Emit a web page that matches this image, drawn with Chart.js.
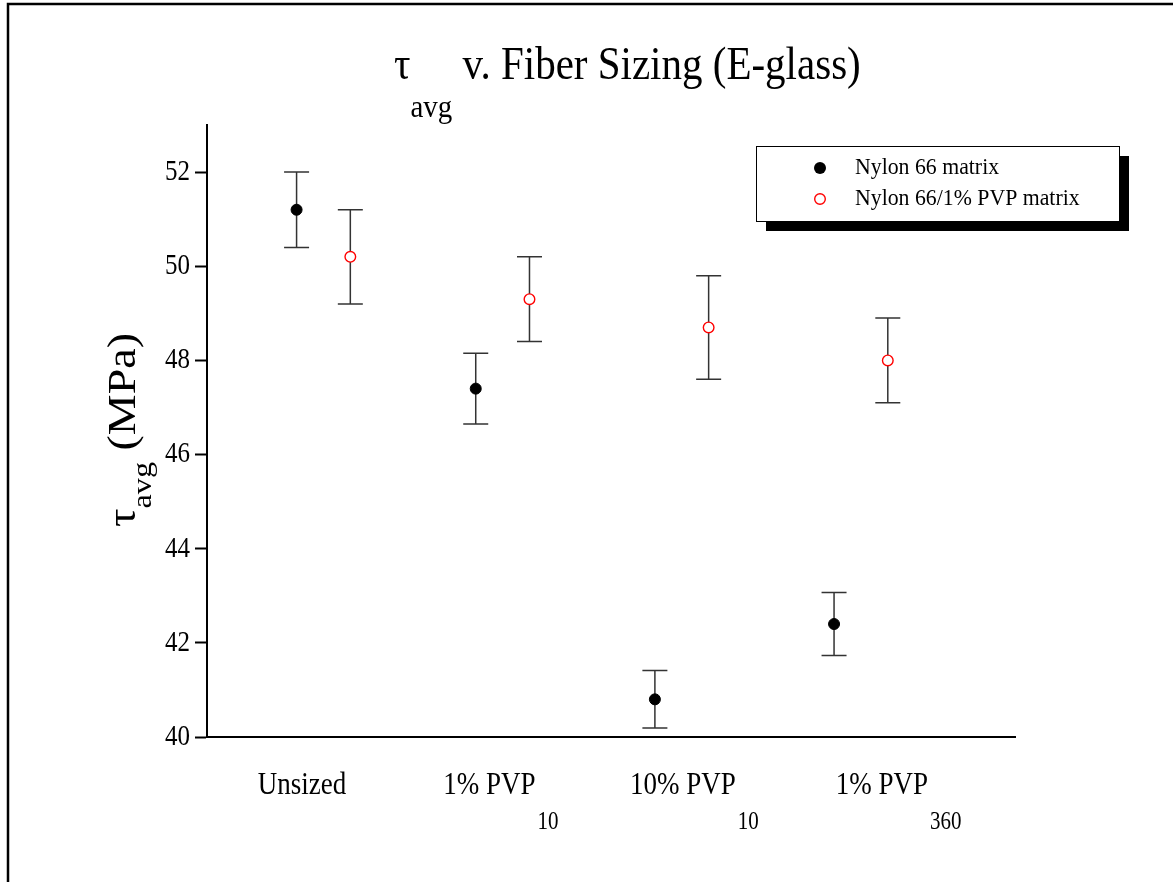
<!DOCTYPE html>
<html>
<head>
<meta charset="utf-8">
<script src="https://cdn.jsdelivr.net/npm/chart.js@4.4.1/dist/chart.umd.min.js"></script>
<style>
  html, body { margin: 0; padding: 0; background: #fff; }
  #wrap { width: 1173px; height: 882px; }
</style>
</head>
<body>
<div id="wrap"><canvas id="chart" width="1173" height="882"></canvas></div>
<script>
// data
const categories = ['Unsized', '1% PVP', '10% PVP', '1% PVP'];
const categorySubs = ['', '10', '10', '360'];
const labelPos = [-0.12, 0.99, 2.07, 3.21];   // where each category label sits on the x scale
const nylonMean = [51.2, 47.4, 40.8, 42.4];
const nylonErr = [0.8, 0.75, 0.61, 0.67];
const pvpMean = [50.2, 49.3, 48.7, 48.0];
const pvpErr = [1.0, 0.9, 1.1, 0.9];
const yTicks = [40, 42, 44, 46, 48, 50, 52];

const DODGE = 0.15;
const SERIF = "'Liberation Serif', 'Times New Roman', serif";

// draw text stretched vertically (the original fonts look taller than Times)
function sText(ctx, text, x, y, size, k) {
  ctx.save();
  ctx.translate(x, y);
  ctx.scale(1, k);
  ctx.font = size + 'px ' + SERIF;
  ctx.fillText(text, 0, 0);
  ctx.restore();
}
function tw(ctx, text, size) {
  ctx.font = size + 'px ' + SERIF;
  return ctx.measureText(text).width;
}

const framePlugin = {
  id: 'frame',
  beforeDraw(chart) {
    const ctx = chart.ctx;
    ctx.save();
    ctx.fillStyle = '#fff';
    ctx.fillRect(0, 0, chart.width, chart.height);
    ctx.strokeStyle = '#000';
    ctx.lineWidth = 2.5;
    ctx.beginPath();
    ctx.moveTo(8, chart.height);
    ctx.lineTo(8, 4);
    ctx.lineTo(chart.width, 4);
    ctx.stroke();
    ctx.restore();
  }
};

const errorBarPlugin = {
  id: 'errorBars',
  beforeDatasetsDraw(chart) {
    const ctx = chart.ctx;
    const y = chart.scales.y;
    const errs = [nylonErr, pvpErr];
    ctx.save();
    ctx.strokeStyle = '#333';
    ctx.lineWidth = 1.5;
    chart.data.datasets.forEach((ds, di) => {
      const meta = chart.getDatasetMeta(di);
      meta.data.forEach((pt, i) => {
        const v = ds.data[i].y;
        const top = y.getPixelForValue(v + errs[di][i]);
        const bot = y.getPixelForValue(v - errs[di][i]);
        ctx.beginPath();
        ctx.moveTo(pt.x, top); ctx.lineTo(pt.x, bot);
        ctx.moveTo(pt.x - 12.5, top); ctx.lineTo(pt.x + 12.5, top);
        ctx.moveTo(pt.x - 12.5, bot); ctx.lineTo(pt.x + 12.5, bot);
        ctx.stroke();
      });
    });
    ctx.restore();
  }
};

const textPlugin = {
  id: 'texts',
  afterDraw(chart) {
    const ctx = chart.ctx;
    const xs = chart.scales.x, ys = chart.scales.y;
    ctx.save();
    ctx.fillStyle = '#000';
    ctx.textBaseline = 'alphabetic';
    ctx.textAlign = 'left';

    // title
    let x = 394;
    sText(ctx, 'τ', x, 79, 41, 1.12);
    x += tw(ctx, 'τ', 41);
    sText(ctx, 'avg', x, 117, 29, 1.12);
    x += tw(ctx, 'avg', 29);
    sText(ctx, ' v. Fiber Sizing (E-glass)', x, 79, 41, 1.12);

    // y axis title, rotated
    ctx.save();
    ctx.translate(135, 527);
    ctx.rotate(-Math.PI / 2);
    ctx.scale(1.15, 1);
    let u = 0;
    ctx.font = '40px ' + SERIF;
    ctx.fillText('τ', u, 0);
    u += ctx.measureText('τ').width;
    ctx.font = '28px ' + SERIF;
    ctx.fillText('avg', u, 16);
    u += ctx.measureText('avg').width;
    ctx.font = '40px ' + SERIF;
    ctx.fillText(' (MPa)', u, 0);
    ctx.restore();

    // y tick labels
    ctx.textAlign = 'right';
    ctx.textBaseline = 'middle';
    ys.ticks.forEach(t => {
      sText(ctx, String(t.value), 190, ys.getPixelForValue(t.value), 25, 1.2);
    });

    // x category labels
    ctx.textAlign = 'left';
    ctx.textBaseline = 'alphabetic';
    categories.forEach((c, i) => {
      const wMain = tw(ctx, c, 27);
      const wSub = categorySubs[i] ? tw(ctx, categorySubs[i], 21) + 2 : 0;
      const cx = xs.getPixelForValue(labelPos[i]);
      const x0 = cx - (wMain + wSub) / 2;
      sText(ctx, c, x0, 794, 27, 1.18);
      if (categorySubs[i]) sText(ctx, categorySubs[i], x0 + wMain + 2, 829, 21, 1.18);
    });

    // legend box with drop shadow
    const bx = 756, by = 146, bw = 363, bh = 75;
    ctx.fillStyle = '#000';
    ctx.fillRect(bx + 10, by + 10, bw, bh);
    ctx.fillStyle = '#fff';
    ctx.fillRect(bx, by, bw, bh);
    ctx.strokeStyle = '#000';
    ctx.lineWidth = 1;
    ctx.strokeRect(bx + 0.5, by + 0.5, bw, bh);
    chart.data.datasets.forEach((ds, di) => {
      const ly = by + 22 + di * 31;
      ctx.beginPath();
      ctx.arc(bx + 64, ly, di === 0 ? 6 : 5.3, 0, Math.PI * 2);
      if (di === 0) { ctx.fillStyle = '#000'; ctx.fill(); }
      else { ctx.fillStyle = '#fff'; ctx.fill(); ctx.strokeStyle = '#f00'; ctx.lineWidth = 1.4; ctx.stroke(); }
      ctx.fillStyle = '#000';
      ctx.textBaseline = 'middle';
      sText(ctx, ds.label, bx + 99, ly, 21.8, 1.05);
    });
    ctx.restore();
  }
};

new Chart(document.getElementById('chart'), {
  type: 'scatter',
  data: {
    datasets: [
      {
        label: 'Nylon 66 matrix',
        data: nylonMean.map((v, i) => ({ x: i - DODGE, y: v })),
        pointRadius: 5.5,
        pointBackgroundColor: '#000',
        pointBorderColor: '#000',
        pointBorderWidth: 1
      },
      {
        label: 'Nylon 66/1% PVP matrix',
        data: pvpMean.map((v, i) => ({ x: i + DODGE, y: v })),
        pointRadius: 5.3,
        pointBackgroundColor: '#fff',
        pointBorderColor: '#f00',
        pointBorderWidth: 1.4
      }
    ]
  },
  options: {
    responsive: false,
    animation: false,
    events: [],
    layout: { padding: { top: 125, right: 158, left: 0, bottom: 0 } },
    plugins: { legend: { display: false }, title: { display: false }, tooltip: { enabled: false } },
    scales: {
      x: {
        type: 'linear',
        min: -0.65,
        max: 3.86,
        ticks: { display: false },
        grid: { display: false },
        border: { display: true, color: '#000', width: 2 },
        afterFit(s) { s.height = 145; }
      },
      y: {
        type: 'linear',
        min: 40,
        max: 53,
        afterBuildTicks(s) { s.ticks = yTicks.map(v => ({ value: v })); },
        ticks: { display: false },
        grid: { display: true, drawOnChartArea: false, drawTicks: true, tickLength: 12, tickColor: '#000', tickWidth: 2 },
        border: { display: true, color: '#000', width: 2 },
        afterFit(s) { s.width = 207; }
      }
    }
  },
  plugins: [framePlugin, errorBarPlugin, textPlugin]
});
</script>
</body>
</html>
